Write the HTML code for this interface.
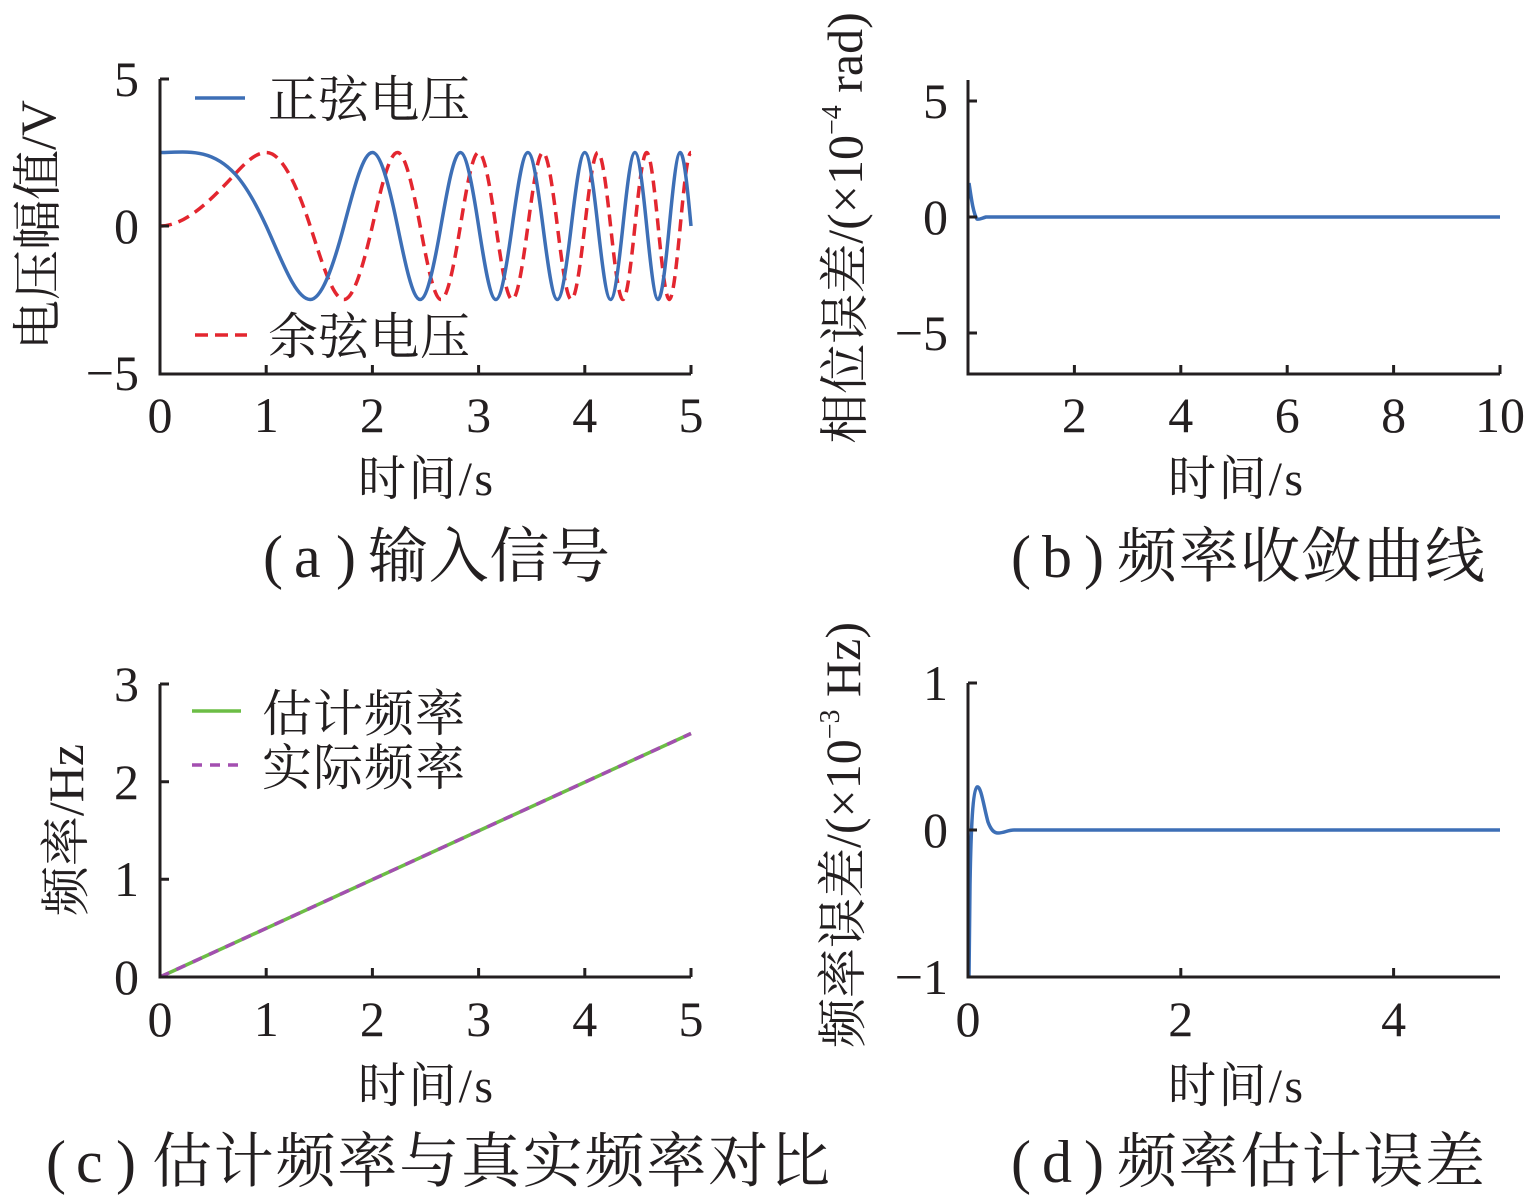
<!DOCTYPE html>
<html>
<head>
<meta charset="utf-8">
<style>
html,body{margin:0;padding:0;background:#fff;}
svg{display:block;}
text{font-family:"Liberation Serif","Noto Serif CJK SC","Noto Sans CJK SC",serif;fill:#231f20;}
.ax{fill:none;stroke:#231f20;stroke-width:3;stroke-linejoin:miter;}
.tk{stroke:#231f20;stroke-width:3;}
.tl{font-size:50px;}
.xl{font-size:48px;}
.tt{font-size:60px;}
.lg{font-size:50px;}
.yl{font-size:50px;}
</style>
</head>
<body>
<svg width="1535" height="1200" viewBox="0 0 1535 1200" xmlns="http://www.w3.org/2000/svg">

<!-- ===================== (a) ===================== -->
<path fill="none" stroke="#e3262f" stroke-width="3.5" stroke-dasharray="12 7"
d="M160,226 C185.03,226 210.06,201.21 235.09,174.0 C245.46,162.73 255.83,152.5 266.2,152.5
C280.86,152.5 295.53,180.91 310.19,226 C321.44,260.60 332.69,299.5 343.94,299.5
C353.43,299.5 362.91,267.25 372.4,226 C380.76,189.66 389.11,152.5 397.47,152.5
C405.03,152.5 412.58,185.76 420.14,226 C427.09,263.00 434.03,299.5 440.98,299.5
C447.45,299.5 453.91,265.77 460.38,226 C466.45,188.65 472.53,152.5 478.6,152.5
C484.34,152.5 490.09,186.51 495.83,226 C501.29,263.57 506.77,299.5 512.23,299.5
C517.45,299.5 522.67,265.32 527.89,226 C532.90,188.29 537.90,152.5 542.91,152.5
C547.73,152.5 552.54,186.80 557.36,226 C562.01,263.81 566.66,299.5 571.31,299.5
C575.81,299.5 580.30,265.10 584.8,226 C589.16,188.10 593.51,152.5 597.87,152.5
C602.10,152.5 606.34,186.97 610.57,226 C614.69,263.96 618.80,299.5 622.92,299.5
C626.93,299.5 630.93,264.98 634.94,226 C638.85,187.99 642.76,152.5 646.67,152.5
C650.49,152.5 654.30,187.07 658.12,226 C661.85,264.06 665.59,299.5 669.32,299.5
C672.97,299.5 676.62,264.89 680.27,226 C683.85,187.91 687.42,152.5 691,152.5"/>
<path fill="none" stroke="#3d6fb6" stroke-width="3.5"
d="M160,152.5 C185.03,152.5 210.06,146.79 235.09,174.0 C245.46,185.27 255.83,203.46 266.2,226
C280.86,257.88 295.53,299.5 310.19,299.5 C321.44,299.5 332.69,268.37 343.94,226
C353.43,190.28 362.91,152.5 372.4,152.5 C380.76,152.5 389.11,185.37 397.47,226
C405.03,262.73 412.58,299.5 420.14,299.5 C427.09,299.5 434.03,265.96 440.98,226
C447.45,188.80 453.91,152.5 460.38,152.5 C466.45,152.5 472.53,186.38 478.6,226
C484.34,263.47 490.09,299.5 495.83,299.5 C501.29,299.5 506.77,265.40 512.23,226
C517.45,188.35 522.67,152.5 527.89,152.5 C532.90,152.5 537.90,186.75 542.91,226
C547.73,263.77 552.54,299.5 557.36,299.5 C562.01,299.5 566.66,265.14 571.31,226
C575.81,188.14 580.30,152.5 584.8,152.5 C589.16,152.5 593.51,186.93 597.87,226
C602.10,263.93 606.34,299.5 610.57,299.5 C614.69,299.5 618.80,265.0 622.92,226
C626.93,188.01 630.93,152.5 634.94,152.5 C638.85,152.5 642.76,187.05 646.67,226
C650.49,264.04 654.30,299.5 658.12,299.5 C661.85,299.5 665.59,264.91 669.32,226
C672.97,187.93 676.62,152.5 680.27,152.5 C683.85,152.5 687.42,187.13 691,226"/>

<path class="ax" d="M160,79 V374 H691"/>
<path class="tk" d="M160,79 h9 M160,226 h9 M266.2,374 v-9 M372.4,374 v-9 M478.6,374 v-9 M584.8,374 v-9 M691,374 v-9"/>

<text class="tl" x="139" y="96" text-anchor="end">5</text>
<text class="tl" x="139" y="243" text-anchor="end">0</text>
<text class="tl" x="139" y="390" text-anchor="end">−5</text>
<text class="tl" x="160" y="432" text-anchor="middle">0</text>
<text class="tl" x="266.2" y="432" text-anchor="middle">1</text>
<text class="tl" x="372.4" y="432" text-anchor="middle">2</text>
<text class="tl" x="478.6" y="432" text-anchor="middle">3</text>
<text class="tl" x="584.8" y="432" text-anchor="middle">4</text>
<text class="tl" x="691" y="432" text-anchor="middle">5</text>

<line x1="195" y1="98" x2="245" y2="98" stroke="#3d6fb6" stroke-width="3.5"/>
<text class="lg" x="268" y="117" textLength="202">正弦电压</text>
<line x1="195" y1="335" x2="247" y2="335" stroke="#e3262f" stroke-width="3.5" stroke-dasharray="13 7"/>
<text class="lg" x="268" y="354" textLength="202">余弦电压</text>

<text class="yl" transform="translate(55,225) rotate(-90)" text-anchor="middle">电压幅值/V</text>
<text class="xl" x="358" y="495" textLength="135">时间/s</text>

<text class="tt" x="263" y="577">(</text>
<text class="tt" x="294" y="577">a</text>
<text class="tt" x="336" y="577">)</text>
<text class="tt" x="368" y="577" textLength="242">输入信号</text>

<!-- ===================== (b) ===================== -->
<path fill="none" stroke="#3d6fb6" stroke-width="3.5"
d="M969,183 C971,196 973,213 977,219 C979,220 982,218 986,217 L1500,217"/>
<path class="ax" d="M968,80 V374 H1500"/>
<path class="tk" d="M968,101 h9 M968,217 h9 M968,333 h9 M1074.4,374 v-9 M1180.8,374 v-9 M1287.2,374 v-9 M1393.6,374 v-9 M1500,374 v-9"/>

<text class="tl" x="948" y="118" text-anchor="end">5</text>
<text class="tl" x="948" y="234" text-anchor="end">0</text>
<text class="tl" x="948" y="350" text-anchor="end">−5</text>
<text class="tl" x="1074.4" y="432" text-anchor="middle">2</text>
<text class="tl" x="1180.8" y="432" text-anchor="middle">4</text>
<text class="tl" x="1287.2" y="432" text-anchor="middle">6</text>
<text class="tl" x="1393.6" y="432" text-anchor="middle">8</text>
<text class="tl" x="1500" y="432" text-anchor="middle">10</text>

<text class="yl" transform="translate(862,228) rotate(-90)" text-anchor="middle">相位误差/(×10<tspan font-size="28" dy="-21">−4</tspan><tspan dy="21"> rad)</tspan></text>
<text class="xl" x="1168" y="495" textLength="135">时间/s</text>

<text class="tt" x="1011" y="577">(</text>
<text class="tt" x="1042" y="577">b</text>
<text class="tt" x="1084" y="577">)</text>
<text class="tt" x="1117" y="577" textLength="368">频率收敛曲线</text>

<!-- ===================== (c) ===================== -->
<line x1="160" y1="977" x2="691" y2="733.5" stroke="#6cbd45" stroke-width="3.5"/>
<line x1="160" y1="977" x2="691" y2="733.5" stroke="#a34fb0" stroke-width="3.5" stroke-dasharray="10 8"/>
<path class="ax" d="M160,684 V977 H691"/>
<path class="tk" d="M160,684 h9 M160,781.7 h9 M160,879.3 h9 M266.2,977 v-9 M372.4,977 v-9 M478.6,977 v-9 M584.8,977 v-9 M691,977 v-9"/>

<text class="tl" x="139" y="701" text-anchor="end">3</text>
<text class="tl" x="139" y="799" text-anchor="end">2</text>
<text class="tl" x="139" y="896" text-anchor="end">1</text>
<text class="tl" x="139" y="994" text-anchor="end">0</text>
<text class="tl" x="160" y="1036" text-anchor="middle">0</text>
<text class="tl" x="266.2" y="1036" text-anchor="middle">1</text>
<text class="tl" x="372.4" y="1036" text-anchor="middle">2</text>
<text class="tl" x="478.6" y="1036" text-anchor="middle">3</text>
<text class="tl" x="584.8" y="1036" text-anchor="middle">4</text>
<text class="tl" x="691" y="1036" text-anchor="middle">5</text>

<line x1="192" y1="711" x2="241" y2="711" stroke="#6cbd45" stroke-width="3.5"/>
<text class="lg" x="262" y="731" textLength="203">估计频率</text>
<line x1="192" y1="765" x2="243" y2="765" stroke="#a34fb0" stroke-width="3.5" stroke-dasharray="10 8"/>
<text class="lg" x="262" y="785" textLength="203">实际频率</text>

<text class="yl" transform="translate(83,830) rotate(-90)" text-anchor="middle">频率/Hz</text>
<text class="xl" x="358" y="1102" textLength="135">时间/s</text>

<text class="tt" x="46" y="1182">(</text>
<text class="tt" x="76" y="1182">c</text>
<text class="tt" x="116" y="1182">)</text>
<text class="tt" x="152" y="1182" textLength="678">估计频率与真实频率对比</text>

<!-- ===================== (d) ===================== -->
<path fill="none" stroke="#3d6fb6" stroke-width="3.5"
d="M969,977 L970,885 C971,825 973,790 977,787 C981,785 984,808 988,822 C991,830 994,833 998,833 C1004,833 1008,830 1014,830 L1500,830"/>
<path class="ax" d="M968,683 V977 H1500"/>
<path class="tk" d="M968,683 h9 M968,830 h9 M1180.8,977 v-9 M1393.6,977 v-9"/>

<text class="tl" x="948" y="700" text-anchor="end">1</text>
<text class="tl" x="948" y="847" text-anchor="end">0</text>
<text class="tl" x="948" y="994" text-anchor="end">−1</text>
<text class="tl" x="968" y="1036" text-anchor="middle">0</text>
<text class="tl" x="1180.8" y="1036" text-anchor="middle">2</text>
<text class="tl" x="1393.6" y="1036" text-anchor="middle">4</text>

<text class="yl" transform="translate(860,835) rotate(-90)" text-anchor="middle">频率误差/(×10<tspan font-size="28" dy="-21">−3</tspan><tspan dy="21"> Hz)</tspan></text>
<text class="xl" x="1168" y="1102" textLength="135">时间/s</text>

<text class="tt" x="1011" y="1182">(</text>
<text class="tt" x="1042" y="1182">d</text>
<text class="tt" x="1084" y="1182">)</text>
<text class="tt" x="1117" y="1182" textLength="368">频率估计误差</text>

</svg>
</body>
</html>
